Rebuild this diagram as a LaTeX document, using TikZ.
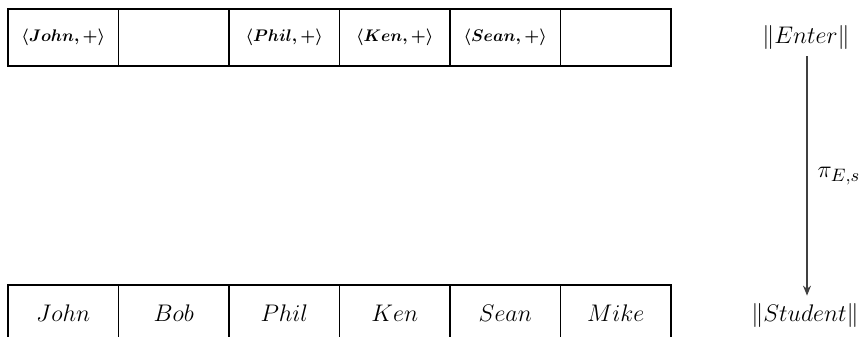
\documentclass[tikz,border=0pt]{standalone}
\usetikzlibrary{arrows.meta}
\newcommand{\toptext}[1]{\scalebox{0.84}{\fontsize{10}{12}\selectfont\boldmath$#1$}}
\begin{document}
\begin{tikzpicture}[x=0.5pt,y=-0.5pt,
  cell/.style={draw=black,line width=0.8pt,rectangle,minimum width=55.25pt,minimum height=28.5pt,inner sep=0pt},
  botlab/.style={font=\fontsize{12}{14}\selectfont},
  setlab/.style={font=\fontsize{13.2}{15}\selectfont,inner sep=0pt},
  maparrow/.style={draw=black!75,line width=0.6pt,-{Stealth[length=5pt,width=4pt]}}]
\useasboundingbox (0,0) rectangle (867,337);
% top row
\node[cell] (t1) at (63.25,37.5) {\toptext{\langle John,+\rangle}};
\node[cell] (t2) at (173.75,37.5) {};
\node[cell] (t3) at (284.25,37.5) {\toptext{\langle Phil,+\rangle}};
\node[cell] (t4) at (394.75,37.5) {\toptext{\langle Ken,+\rangle}};
\node[cell] (t5) at (505.25,37.5) {\toptext{\langle Sean,+\rangle}};
\node[cell] (t6) at (615.75,37.5) {};
% bottom row
\node[cell,botlab] (b1) at (63.25,313.5) {$John$};
\node[cell,botlab] (b2) at (173.75,313.5) {$Bob$};
\node[cell,botlab] (b3) at (284.25,313.5) {$Phil$};
\node[cell,botlab] (b4) at (394.75,313.5) {$Ken$};
\node[cell,botlab] (b5) at (505.25,313.5) {$Sean$};
\node[cell,botlab] (b6) at (615.75,313.5) {$Mike$};
% right side
\node[setlab] (enter) at (806,37) {$\|Enter\|$};
\node[setlab] (student) at (805,315) {$\|Student\|$};
\draw[maparrow] ([xshift=0.5pt,yshift=-3.5pt]enter.south) -- ([xshift=0.5pt,yshift=3.5pt]student.north -| enter.south)
  node[midway,right=5pt,font=\fontsize{13.2}{15}\selectfont,inner sep=0pt] (pi) {$\pi_{E,s}$};
\end{tikzpicture}
\end{document}
